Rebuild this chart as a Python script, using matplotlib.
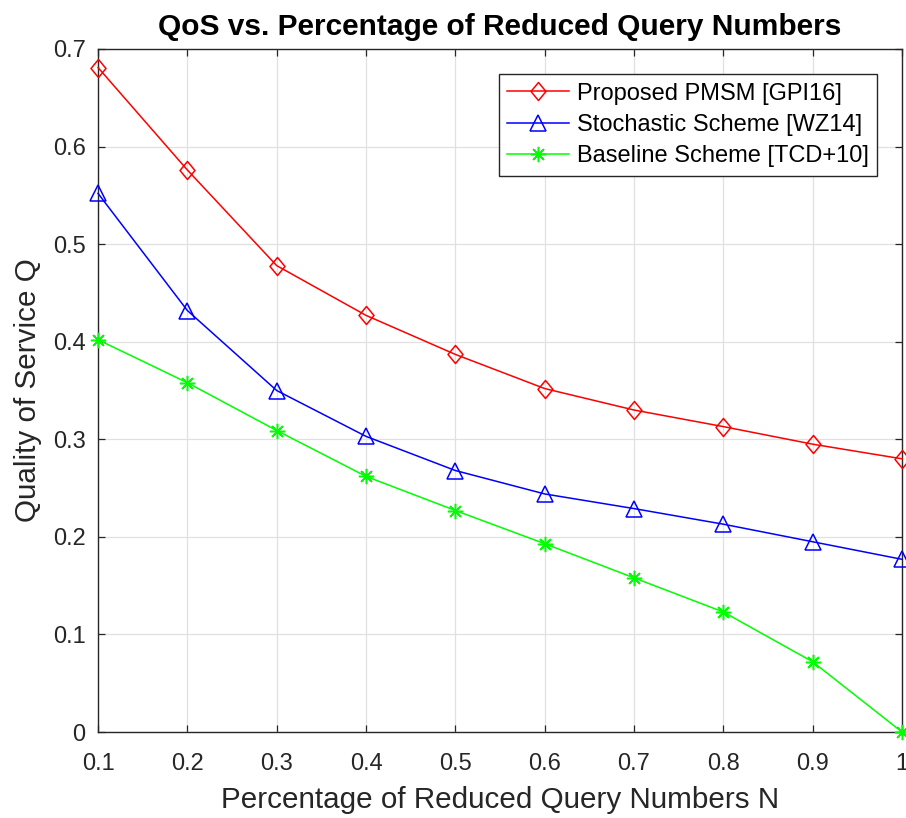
import matplotlib
matplotlib.use("Agg")
import matplotlib.pyplot as plt
from matplotlib.path import Path

plt.rcParams['font.family'] = ['Liberation Sans', 'DejaVu Sans']

n_values = [0.1, 0.2, 0.3, 0.4, 0.5, 0.6, 0.7, 0.8, 0.9, 1.0]
pmsm = [0.681, 0.576, 0.478, 0.427, 0.387, 0.352, 0.330, 0.313, 0.295, 0.280]
stochastic = [0.552, 0.432, 0.350, 0.303, 0.268, 0.244, 0.229, 0.213, 0.195, 0.177]
baseline = [0.402, 0.358, 0.309, 0.262, 0.227, 0.193, 0.158, 0.123, 0.072, 0.0]

x_ticks = [0.1, 0.2, 0.3, 0.4, 0.5, 0.6, 0.7, 0.8, 0.9, 1.0]
x_tick_labels = ['0.1', '0.2', '0.3', '0.4', '0.5', '0.6', '0.7', '0.8', '0.9', '1']
y_ticks = [0, 0.1, 0.2, 0.3, 0.4, 0.5, 0.6, 0.7]
y_tick_labels = ['0', '0.1', '0.2', '0.3', '0.4', '0.5', '0.6', '0.7']

TXT = '#262626'

# slightly tall diamond, like MATLAB's 'd' marker
diamond = Path([(0, 1), (0.83, 0), (0, -1), (-0.83, 0), (0, 1)],
               [Path.MOVETO, Path.LINETO, Path.LINETO, Path.LINETO, Path.CLOSEPOLY])

fig = plt.figure(figsize=(9.06, 8.18), dpi=100)
ax = fig.add_axes([0.1082, 0.1051, 0.8874, 0.835])

ax.plot(n_values, pmsm, color='#ff0000', lw=1.1, marker=diamond, markersize=13,
        markerfacecolor='none', markeredgewidth=1.1, label='Proposed PMSM [GPI16]',
        clip_on=False, zorder=3)
ax.plot(n_values, stochastic, color='#0000ff', lw=1.1, marker='^', markersize=11,
        markerfacecolor='none', markeredgewidth=1.1, label='Stochastic Scheme [WZ14]',
        clip_on=False, zorder=3)
ax.plot(n_values, baseline, color='#00ff00', lw=1.1, marker=(8, 2, 0), markersize=11,
        markerfacecolor='none', markeredgewidth=1.1, label='Baseline Scheme [TCD+10]',
        clip_on=False, zorder=3)

ax.set_xlim(0.1, 1.0)
ax.set_ylim(0, 0.7)
ax.set_xticks(x_ticks)
ax.set_xticklabels(x_tick_labels)
ax.set_yticks(y_ticks)
ax.set_yticklabels(y_tick_labels)

ax.grid(True, color='#e0e0e0', lw=0.9)
ax.set_axisbelow(True)
ax.tick_params(direction='in', length=5, width=0.9, top=True, right=True,
               labelsize=17, colors=TXT)
ax.tick_params(axis='x', pad=15)
ax.tick_params(axis='y', pad=9)
for s in ax.spines.values():
    s.set_color(TXT)
    s.set_linewidth(1.0)

ax.set_xlabel('Percentage of Reduced Query Numbers N', fontsize=21.3, color=TXT, labelpad=8)
ax.set_ylabel('Quality of Service Q', fontsize=21.3, color=TXT, labelpad=8)
ax.set_title('QoS vs. Percentage of Reduced Query Numbers', fontsize=21.5,
             fontweight='bold', pad=10)

leg = ax.legend(loc='upper right', bbox_to_anchor=(0.969, 0.963), fontsize=17,
                fancybox=False, edgecolor=TXT, framealpha=1,
                handlelength=2.6, borderpad=0.35, labelspacing=0.4,
                handletextpad=0.35, borderaxespad=0)
leg.get_frame().set_linewidth(1.0)

fig.savefig('out.png', dpi=100)
